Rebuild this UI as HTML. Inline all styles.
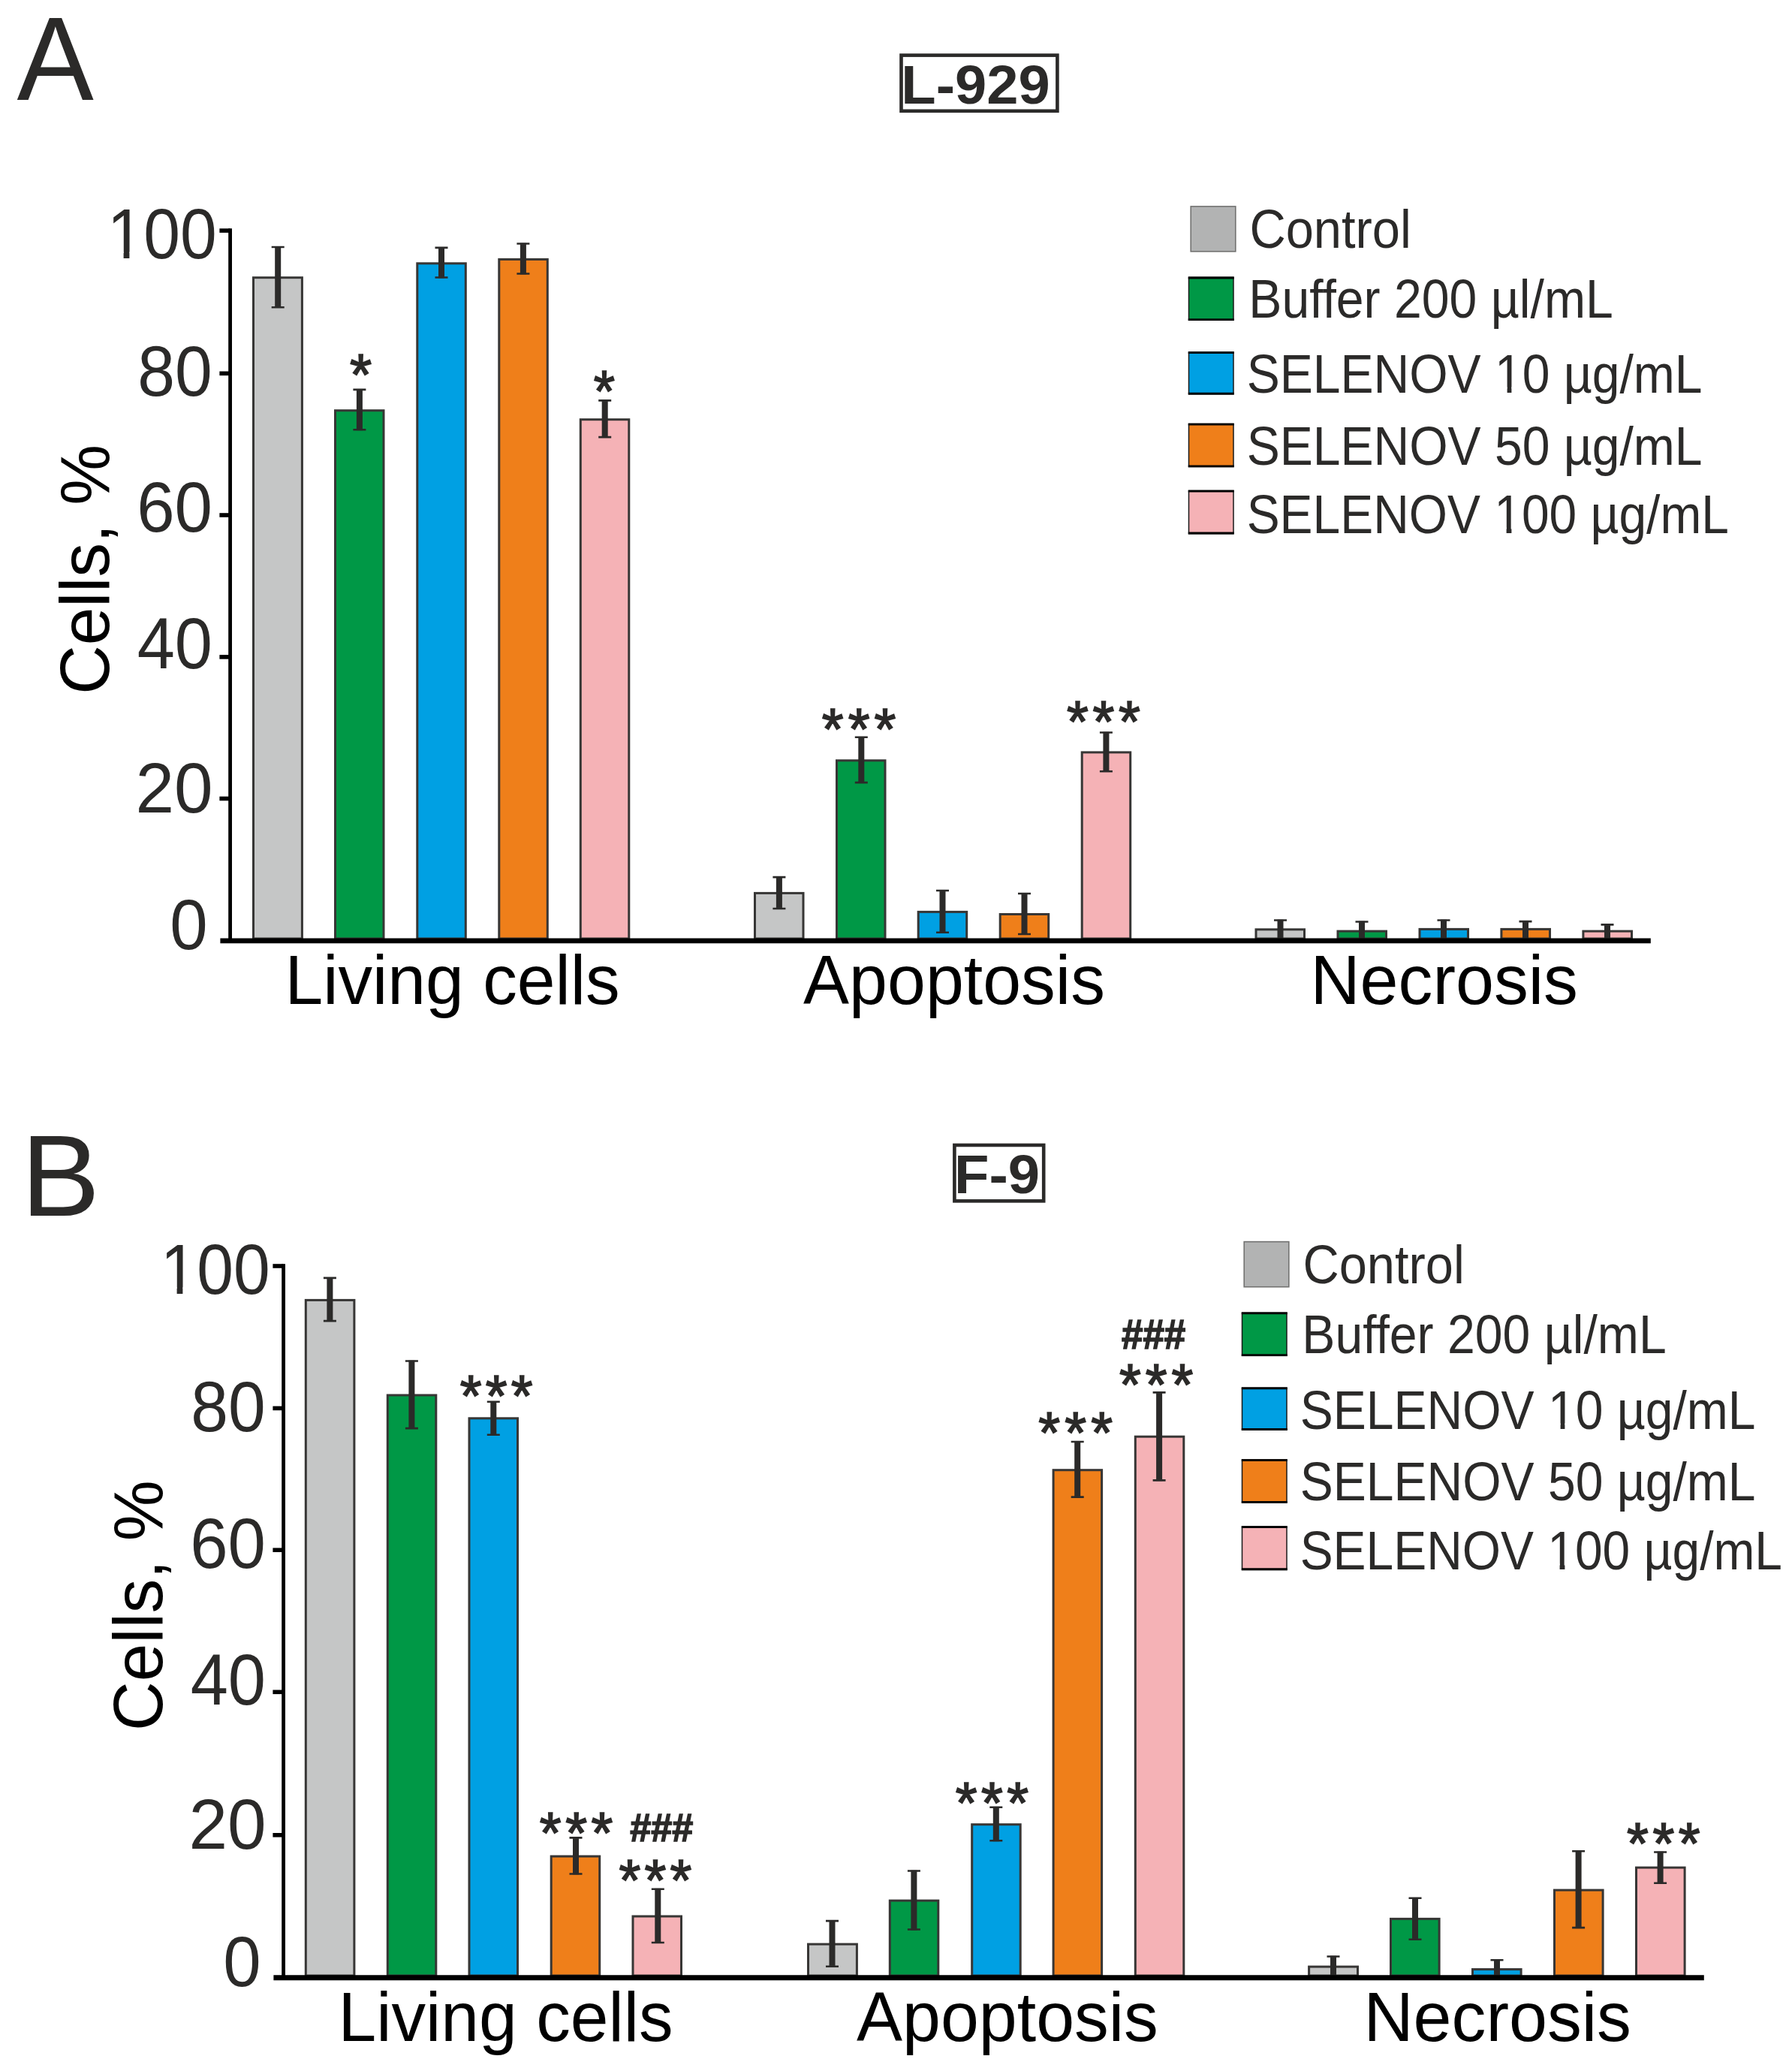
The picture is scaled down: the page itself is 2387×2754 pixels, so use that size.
<!DOCTYPE html>
<html lang="en"><head><meta charset="utf-8"><title>Figure</title>
<style>html,body{margin:0;padding:0;background:#fff}svg{display:block}text{white-space:pre}</style></head>
<body>
<svg width="2387" height="2754" viewBox="0 0 2387 2754" font-family="'Liberation Sans', sans-serif">
<rect width="2387" height="2754" fill="#fff"/>
<rect x="337.50" y="369.70" width="64.90" height="880.30" fill="#c5c6c6" stroke="#373635" stroke-width="3.0"/>
<rect x="446.50" y="546.70" width="64.50" height="703.30" fill="#009846" stroke="#373635" stroke-width="3.0"/>
<rect x="555.80" y="350.80" width="64.50" height="899.20" fill="#00a0e3" stroke="#373635" stroke-width="3.0"/>
<rect x="664.80" y="345.40" width="64.50" height="904.60" fill="#ef7f1a" stroke="#373635" stroke-width="3.0"/>
<rect x="773.30" y="558.70" width="64.50" height="691.30" fill="#f5b2b6" stroke="#373635" stroke-width="3.0"/>
<rect x="1005.50" y="1189.40" width="64.50" height="60.60" fill="#c5c6c6" stroke="#373635" stroke-width="3.0"/>
<rect x="1114.50" y="1012.80" width="64.50" height="237.20" fill="#009846" stroke="#373635" stroke-width="3.0"/>
<rect x="1223.20" y="1214.40" width="64.50" height="35.60" fill="#00a0e3" stroke="#373635" stroke-width="3.0"/>
<rect x="1332.20" y="1217.50" width="64.50" height="32.50" fill="#ef7f1a" stroke="#373635" stroke-width="3.0"/>
<rect x="1441.20" y="1001.90" width="64.50" height="248.10" fill="#f5b2b6" stroke="#373635" stroke-width="3.0"/>
<rect x="1673.00" y="1237.80" width="64.50" height="12.20" fill="#c5c6c6" stroke="#373635" stroke-width="3.0"/>
<rect x="1782.00" y="1240.10" width="64.50" height="9.90" fill="#009846" stroke="#373635" stroke-width="3.0"/>
<rect x="1891.00" y="1237.40" width="64.50" height="12.60" fill="#00a0e3" stroke="#373635" stroke-width="3.0"/>
<rect x="1999.90" y="1237.40" width="64.60" height="12.60" fill="#ef7f1a" stroke="#373635" stroke-width="3.0"/>
<rect x="2108.90" y="1240.10" width="64.60" height="9.90" fill="#f5b2b6" stroke="#373635" stroke-width="3.0"/>
<path d="M361.70 329.00h17.0M361.70 409.20h17.0" stroke="#2b2a29" stroke-width="2.6"/>
<rect x="366.20" y="328.20" width="8.0" height="81.80" fill="#2b2a29"/>
<path d="M470.40 518.90h17.0M470.40 572.30h17.0" stroke="#2b2a29" stroke-width="2.6"/>
<rect x="474.90" y="518.10" width="8.0" height="55.00" fill="#2b2a29"/>
<path d="M579.50 329.90h17.0M579.50 369.50h17.0" stroke="#2b2a29" stroke-width="2.6"/>
<rect x="584.00" y="329.10" width="8.0" height="41.20" fill="#2b2a29"/>
<path d="M688.40 324.50h17.0M688.40 364.50h17.0" stroke="#2b2a29" stroke-width="2.6"/>
<rect x="692.90" y="323.70" width="8.0" height="41.60" fill="#2b2a29"/>
<path d="M797.20 533.40h17.0M797.20 582.10h17.0" stroke="#2b2a29" stroke-width="2.6"/>
<rect x="801.70" y="532.60" width="8.0" height="50.30" fill="#2b2a29"/>
<path d="M1029.40 1168.10h17.0M1029.40 1210.00h17.0" stroke="#2b2a29" stroke-width="2.6"/>
<rect x="1033.90" y="1167.30" width="8.0" height="43.50" fill="#2b2a29"/>
<path d="M1138.80 981.80h17.0M1138.80 1042.10h17.0" stroke="#2b2a29" stroke-width="2.6"/>
<rect x="1143.30" y="981.00" width="8.0" height="61.90" fill="#2b2a29"/>
<path d="M1247.00 1186.00h17.0M1247.00 1241.70h17.0" stroke="#2b2a29" stroke-width="2.6"/>
<rect x="1251.50" y="1185.20" width="8.0" height="57.30" fill="#2b2a29"/>
<path d="M1356.00 1190.00h17.0M1356.00 1244.00h17.0" stroke="#2b2a29" stroke-width="2.6"/>
<rect x="1360.50" y="1189.20" width="8.0" height="55.60" fill="#2b2a29"/>
<path d="M1464.90 975.50h17.0M1464.90 1027.20h17.0" stroke="#2b2a29" stroke-width="2.6"/>
<rect x="1469.40" y="974.70" width="8.0" height="53.30" fill="#2b2a29"/>
<path d="M1697.00 1225.50h17.0M1697.00 1254.50h17.0" stroke="#2b2a29" stroke-width="2.6"/>
<rect x="1701.50" y="1224.70" width="8.0" height="30.60" fill="#2b2a29"/>
<path d="M1805.50 1227.50h17.0M1805.50 1254.50h17.0" stroke="#2b2a29" stroke-width="2.6"/>
<rect x="1810.00" y="1226.70" width="8.0" height="28.60" fill="#2b2a29"/>
<path d="M1914.50 1225.50h17.0M1914.50 1254.50h17.0" stroke="#2b2a29" stroke-width="2.6"/>
<rect x="1919.00" y="1224.70" width="8.0" height="30.60" fill="#2b2a29"/>
<path d="M2023.50 1227.10h17.0M2023.50 1254.50h17.0" stroke="#2b2a29" stroke-width="2.6"/>
<rect x="2028.00" y="1226.30" width="8.0" height="29.00" fill="#2b2a29"/>
<path d="M2132.50 1231.40h17.0M2132.50 1254.50h17.0" stroke="#2b2a29" stroke-width="2.6"/>
<rect x="2137.00" y="1230.60" width="8.0" height="24.70" fill="#2b2a29"/>
<path d="M306.6 304.30V1252.9" stroke="#000" stroke-width="4.8" fill="none"/>
<path d="M292.40 307.10H306.6" stroke="#000" stroke-width="5.6"/>
<path d="M292.40 497.30H306.6" stroke="#000" stroke-width="5.6"/>
<path d="M292.40 686.00H306.6" stroke="#000" stroke-width="5.6"/>
<path d="M292.40 874.90H306.6" stroke="#000" stroke-width="5.6"/>
<path d="M292.40 1063.50H306.6" stroke="#000" stroke-width="5.6"/>
<path d="M293.40 1252.9H2198.8" stroke="#000" stroke-width="6.9"/>
<g transform="translate(0,0) scale(1,1)">
<text transform="translate(142.63,344.15) scale(0.9215,1)" font-size="95.12" fill="#2b2a29">100</text>
<rect x="147.50" y="335.50" width="17.10" height="9.50" fill="#fff"/>
<rect x="172.40" y="335.50" width="16.10" height="9.50" fill="#fff"/>
<text transform="translate(183.30,526.56) scale(0.9485,1)" font-size="94.28" fill="#2b2a29">80</text>
<text transform="translate(182.17,708.15) scale(0.9559,1)" font-size="94.84" fill="#2b2a29">60</text>
<text transform="translate(182.67,889.74) scale(0.9384,1)" font-size="96.11" fill="#2b2a29">40</text>
<text transform="translate(180.56,1081.85) scale(0.9790,1)" font-size="94.70" fill="#2b2a29">20</text>
<text transform="translate(226.27,1264.26) scale(0.9604,1)" font-size="94.42" fill="#2b2a29">0</text>
<text transform="translate(144.80,924.84) rotate(-90) scale(0.9762,1)" font-size="93.00" fill="#000">Cells, %</text>
<text transform="translate(379.47,1337.30) scale(0.9916,1)" font-size="92.00" fill="#000">Living cells</text>
<text transform="translate(1070.07,1337.30) scale(0.9946,1)" font-size="92.00" fill="#000">Apoptosis</text>
<text transform="translate(1745.44,1337.30) scale(0.9963,1)" font-size="92.00" fill="#000">Necrosis</text>
<rect x="1586.2" y="274.9" width="59.6" height="60" fill="#b2b3b3" stroke="#727271" stroke-width="1.6"/>
<rect x="1583.5" y="369.30" width="59.5" height="57.00" fill="#009846" stroke="#1a1a1a" stroke-width="1.5"/>
<path d="M1582.8 370.00H1643.7M1582.8 425.60H1643.7" stroke="#000" stroke-width="2.8"/>
<rect x="1583.5" y="469.00" width="59.5" height="55.90" fill="#00a0e3" stroke="#1a1a1a" stroke-width="1.5"/>
<path d="M1582.8 469.70H1643.7M1582.8 524.20H1643.7" stroke="#000" stroke-width="2.8"/>
<rect x="1583.5" y="564.50" width="59.5" height="57.00" fill="#ef7f1a" stroke="#1a1a1a" stroke-width="1.5"/>
<path d="M1582.8 565.20H1643.7M1582.8 620.80H1643.7" stroke="#000" stroke-width="2.8"/>
<rect x="1583.5" y="653.40" width="59.5" height="57.30" fill="#f5b2b6" stroke="#1a1a1a" stroke-width="1.5"/>
<path d="M1582.8 654.10H1643.7M1582.8 710.00H1643.7" stroke="#000" stroke-width="2.8"/>
<text transform="translate(1664.46,329.70) scale(0.9344,1)" font-size="71.50" fill="#2b2a29">Control</text>
<text transform="translate(1663.34,423.40) scale(0.9062,1)" font-size="73.00" fill="#2b2a29">Buffer 200 µl/mL</text>
<text transform="translate(1660.63,523.30) scale(0.9047,1)" font-size="73.00" fill="#2b2a29">SELENOV 10 µg/mL</text>
<rect x="1994.50" y="515.50" width="13.10" height="8.50" fill="#fff"/>
<rect x="2013.40" y="515.50" width="12.10" height="8.50" fill="#fff"/>
<text transform="translate(1660.63,618.70) scale(0.9047,1)" font-size="73.00" fill="#2b2a29">SELENOV 50 µg/mL</text>
<text transform="translate(1660.63,709.90) scale(0.9029,1)" font-size="73.00" fill="#2b2a29">SELENOV 100 µg/mL</text>
<rect x="1993.50" y="702.50" width="13.10" height="8.50" fill="#fff"/>
<rect x="2013.40" y="702.50" width="12.10" height="8.50" fill="#fff"/>
</g>
<text transform="translate(22.42,133.00) scale(0.9685,1)" font-size="158.50" fill="#2b2a29">A</text>
<rect x="1200.50" y="73.60" width="207.90" height="74.20" fill="#fff" stroke="#2b2a29" stroke-width="4.6"/>
<text transform="translate(1200.27,137.60) scale(1.0546,1)" font-size="72.00" fill="#2b2a29" font-weight="bold">L-929</text>
<text transform="translate(466.04,525.89) scale(0.9713,1)" font-size="77.14" letter-spacing="0.00" fill="#2b2a29" stroke="#2b2a29" stroke-width="1.7">*</text>
<text transform="translate(790.78,547.59) scale(0.9421,1)" font-size="77.14" letter-spacing="0.00" fill="#2b2a29" stroke="#2b2a29" stroke-width="1.7">*</text>
<text transform="translate(1094.85,997.89) scale(0.9604,1)" font-size="77.14" letter-spacing="6.27" fill="#2b2a29" stroke="#2b2a29" stroke-width="1.7">***</text>
<text transform="translate(1421.05,988.29) scale(0.9604,1)" font-size="77.14" letter-spacing="5.85" fill="#2b2a29" stroke="#2b2a29" stroke-width="1.7">***</text>
<rect x="407.30" y="1731.40" width="64.60" height="899.60" fill="#c5c6c6" stroke="#373635" stroke-width="3.0"/>
<rect x="516.30" y="1858.00" width="64.50" height="773.00" fill="#009846" stroke="#373635" stroke-width="3.0"/>
<rect x="625.00" y="1888.80" width="64.50" height="742.20" fill="#00a0e3" stroke="#373635" stroke-width="3.0"/>
<rect x="734.20" y="2472.10" width="64.50" height="158.90" fill="#ef7f1a" stroke="#373635" stroke-width="3.0"/>
<rect x="843.00" y="2552.00" width="64.50" height="79.00" fill="#f5b2b6" stroke="#373635" stroke-width="3.0"/>
<rect x="1076.50" y="2589.10" width="64.90" height="41.90" fill="#c5c6c6" stroke="#373635" stroke-width="3.0"/>
<rect x="1185.30" y="2531.10" width="64.50" height="99.90" fill="#009846" stroke="#373635" stroke-width="3.0"/>
<rect x="1294.70" y="2429.70" width="64.50" height="201.30" fill="#00a0e3" stroke="#373635" stroke-width="3.0"/>
<rect x="1403.10" y="1957.70" width="64.50" height="673.30" fill="#ef7f1a" stroke="#373635" stroke-width="3.0"/>
<rect x="1512.30" y="1913.20" width="64.50" height="717.80" fill="#f5b2b6" stroke="#373635" stroke-width="3.0"/>
<rect x="1743.60" y="2619.10" width="64.90" height="11.90" fill="#c5c6c6" stroke="#373635" stroke-width="3.0"/>
<rect x="1852.50" y="2555.40" width="64.60" height="75.60" fill="#009846" stroke="#373635" stroke-width="3.0"/>
<rect x="1961.50" y="2622.60" width="64.60" height="8.40" fill="#00a0e3" stroke="#373635" stroke-width="3.0"/>
<rect x="2070.50" y="2517.10" width="64.60" height="113.90" fill="#ef7f1a" stroke="#373635" stroke-width="3.0"/>
<rect x="2179.50" y="2487.10" width="64.60" height="143.90" fill="#f5b2b6" stroke="#373635" stroke-width="3.0"/>
<path d="M430.90 1701.90h17.0M430.90 1759.10h17.0" stroke="#2b2a29" stroke-width="2.6"/>
<rect x="435.40" y="1701.10" width="8.0" height="58.80" fill="#2b2a29"/>
<path d="M539.90 1812.50h17.0M539.90 1902.10h17.0" stroke="#2b2a29" stroke-width="2.6"/>
<rect x="544.40" y="1811.70" width="8.0" height="91.20" fill="#2b2a29"/>
<path d="M648.80 1866.80h17.0M648.80 1910.70h17.0" stroke="#2b2a29" stroke-width="2.6"/>
<rect x="653.30" y="1866.00" width="8.0" height="45.50" fill="#2b2a29"/>
<path d="M758.50 2447.40h17.0M758.50 2495.50h17.0" stroke="#2b2a29" stroke-width="2.6"/>
<rect x="763.00" y="2446.60" width="8.0" height="49.70" fill="#2b2a29"/>
<path d="M867.80 2515.70h17.0M867.80 2587.00h17.0" stroke="#2b2a29" stroke-width="2.6"/>
<rect x="872.30" y="2514.90" width="8.0" height="72.90" fill="#2b2a29"/>
<path d="M1100.00 2558.10h17.0M1100.00 2618.70h17.0" stroke="#2b2a29" stroke-width="2.6"/>
<rect x="1104.50" y="2557.30" width="8.0" height="62.20" fill="#2b2a29"/>
<path d="M1208.90 2491.50h17.0M1208.90 2569.50h17.0" stroke="#2b2a29" stroke-width="2.6"/>
<rect x="1213.40" y="2490.70" width="8.0" height="79.60" fill="#2b2a29"/>
<path d="M1318.30 2406.80h17.0M1318.30 2451.30h17.0" stroke="#2b2a29" stroke-width="2.6"/>
<rect x="1322.80" y="2406.00" width="8.0" height="46.10" fill="#2b2a29"/>
<path d="M1426.70 1920.00h17.0M1426.70 1993.60h17.0" stroke="#2b2a29" stroke-width="2.6"/>
<rect x="1431.20" y="1919.20" width="8.0" height="75.20" fill="#2b2a29"/>
<path d="M1535.60 1854.40h17.0M1535.60 1971.40h17.0" stroke="#2b2a29" stroke-width="2.6"/>
<rect x="1540.10" y="1853.60" width="8.0" height="118.60" fill="#2b2a29"/>
<path d="M1767.50 2605.50h17.0M1767.50 2635.50h17.0" stroke="#2b2a29" stroke-width="2.6"/>
<rect x="1772.00" y="2604.70" width="8.0" height="31.60" fill="#2b2a29"/>
<path d="M1876.50 2527.80h17.0M1876.50 2582.70h17.0" stroke="#2b2a29" stroke-width="2.6"/>
<rect x="1881.00" y="2527.00" width="8.0" height="56.50" fill="#2b2a29"/>
<path d="M1985.50 2610.30h17.0M1985.50 2635.50h17.0" stroke="#2b2a29" stroke-width="2.6"/>
<rect x="1990.00" y="2609.50" width="8.0" height="26.80" fill="#2b2a29"/>
<path d="M2094.10 2465.30h17.0M2094.10 2567.10h17.0" stroke="#2b2a29" stroke-width="2.6"/>
<rect x="2098.60" y="2464.50" width="8.0" height="103.40" fill="#2b2a29"/>
<path d="M2203.10 2466.50h17.0M2203.10 2507.70h17.0" stroke="#2b2a29" stroke-width="2.6"/>
<rect x="2207.60" y="2465.70" width="8.0" height="42.80" fill="#2b2a29"/>
<path d="M377.6 1683.20V2633.8" stroke="#000" stroke-width="4.8" fill="none"/>
<path d="M363.40 1686.00H377.6" stroke="#000" stroke-width="5.6"/>
<path d="M363.40 1875.40H377.6" stroke="#000" stroke-width="5.6"/>
<path d="M363.40 2064.20H377.6" stroke="#000" stroke-width="5.6"/>
<path d="M363.40 2253.30H377.6" stroke="#000" stroke-width="5.6"/>
<path d="M363.40 2443.80H377.6" stroke="#000" stroke-width="5.6"/>
<path d="M364.40 2633.8H2269.8" stroke="#000" stroke-width="6.9"/>
<g transform="translate(71.0,1378.08) scale(1,1.00233)">
<text transform="translate(142.63,344.15) scale(0.9215,1)" font-size="95.12" fill="#2b2a29">100</text>
<rect x="147.50" y="335.64" width="17.10" height="9.48" fill="#fff"/>
<rect x="172.40" y="335.64" width="16.10" height="9.48" fill="#fff"/>
<text transform="translate(183.30,526.56) scale(0.9485,1)" font-size="94.28" fill="#2b2a29">80</text>
<text transform="translate(182.17,708.15) scale(0.9559,1)" font-size="94.84" fill="#2b2a29">60</text>
<text transform="translate(182.67,889.74) scale(0.9384,1)" font-size="96.11" fill="#2b2a29">40</text>
<text transform="translate(180.56,1081.85) scale(0.9790,1)" font-size="94.70" fill="#2b2a29">20</text>
<text transform="translate(226.27,1264.26) scale(0.9604,1)" font-size="94.42" fill="#2b2a29">0</text>
<text transform="translate(144.80,924.84) rotate(-90) scale(0.9762,1)" font-size="93.00" fill="#000">Cells, %</text>
<text transform="translate(379.47,1337.30) scale(0.9916,1)" font-size="92.00" fill="#000">Living cells</text>
<text transform="translate(1070.07,1337.30) scale(0.9946,1)" font-size="92.00" fill="#000">Apoptosis</text>
<text transform="translate(1745.44,1337.30) scale(0.9963,1)" font-size="92.00" fill="#000">Necrosis</text>
<rect x="1586.2" y="274.9" width="59.6" height="60" fill="#b2b3b3" stroke="#727271" stroke-width="1.6"/>
<rect x="1583.5" y="369.30" width="59.5" height="57.00" fill="#009846" stroke="#1a1a1a" stroke-width="1.5"/>
<path d="M1582.8 370.00H1643.7M1582.8 425.60H1643.7" stroke="#000" stroke-width="2.8"/>
<rect x="1583.5" y="469.00" width="59.5" height="55.90" fill="#00a0e3" stroke="#1a1a1a" stroke-width="1.5"/>
<path d="M1582.8 469.70H1643.7M1582.8 524.20H1643.7" stroke="#000" stroke-width="2.8"/>
<rect x="1583.5" y="564.50" width="59.5" height="57.00" fill="#ef7f1a" stroke="#1a1a1a" stroke-width="1.5"/>
<path d="M1582.8 565.20H1643.7M1582.8 620.80H1643.7" stroke="#000" stroke-width="2.8"/>
<rect x="1583.5" y="653.40" width="59.5" height="57.30" fill="#f5b2b6" stroke="#1a1a1a" stroke-width="1.5"/>
<path d="M1582.8 654.10H1643.7M1582.8 710.00H1643.7" stroke="#000" stroke-width="2.8"/>
<text transform="translate(1664.46,329.70) scale(0.9344,1)" font-size="71.50" fill="#2b2a29">Control</text>
<text transform="translate(1663.34,423.40) scale(0.9062,1)" font-size="73.00" fill="#2b2a29">Buffer 200 µl/mL</text>
<text transform="translate(1660.63,523.30) scale(0.9047,1)" font-size="73.00" fill="#2b2a29">SELENOV 10 µg/mL</text>
<rect x="1994.50" y="516.22" width="13.10" height="8.48" fill="#fff"/>
<rect x="2013.40" y="516.22" width="12.10" height="8.48" fill="#fff"/>
<text transform="translate(1660.63,618.70) scale(0.9047,1)" font-size="73.00" fill="#2b2a29">SELENOV 50 µg/mL</text>
<text transform="translate(1660.63,709.90) scale(0.9029,1)" font-size="73.00" fill="#2b2a29">SELENOV 100 µg/mL</text>
<rect x="1993.50" y="702.78" width="13.10" height="8.48" fill="#fff"/>
<rect x="2013.40" y="702.78" width="12.10" height="8.48" fill="#fff"/>
</g>
<text transform="translate(27.99,1618.70) scale(1.0210,1)" font-size="154.50" fill="#2b2a29">B</text>
<rect x="1271.40" y="1525.00" width="118.80" height="74.40" fill="#fff" stroke="#2b2a29" stroke-width="4.6"/>
<text transform="translate(1271.07,1588.50) scale(1.0565,1)" font-size="72.00" fill="#2b2a29" font-weight="bold">F-9</text>
<text transform="translate(612.75,1885.79) scale(0.9604,1)" font-size="77.14" letter-spacing="5.43" fill="#2b2a29" stroke="#2b2a29" stroke-width="1.7">***</text>
<text transform="translate(718.75,2467.69) scale(0.9604,1)" font-size="77.14" letter-spacing="5.80" fill="#2b2a29" stroke="#2b2a29" stroke-width="1.7">***</text>
<text transform="translate(824.55,2531.09) scale(0.9604,1)" font-size="77.14" letter-spacing="5.38" fill="#2b2a29" stroke="#2b2a29" stroke-width="1.7">***</text>
<text transform="translate(839.22,2451.90) scale(0.9752,1)" font-size="51.62" fill="#2b2a29" font-weight="bold" stroke="#2b2a29" stroke-width="1.6" stroke-linejoin="miter">###</text>
<text transform="translate(1272.75,2428.49) scale(0.9604,1)" font-size="77.14" letter-spacing="5.59" fill="#2b2a29" stroke="#2b2a29" stroke-width="1.7">***</text>
<text transform="translate(1383.15,1935.49) scale(0.9604,1)" font-size="77.14" letter-spacing="6.42" fill="#2b2a29" stroke="#2b2a29" stroke-width="1.7">***</text>
<text transform="translate(1490.95,1871.09) scale(0.9604,1)" font-size="77.14" letter-spacing="6.22" fill="#2b2a29" stroke="#2b2a29" stroke-width="1.7">***</text>
<text transform="translate(1494.01,1796.10) scale(0.9078,1)" font-size="56.32" fill="#2b2a29" font-weight="bold" stroke="#2b2a29" stroke-width="1.6" stroke-linejoin="miter">###</text>
<text transform="translate(2167.05,2481.89) scale(0.9604,1)" font-size="77.14" letter-spacing="5.80" fill="#2b2a29" stroke="#2b2a29" stroke-width="1.7">***</text>
</svg>
</body></html>
